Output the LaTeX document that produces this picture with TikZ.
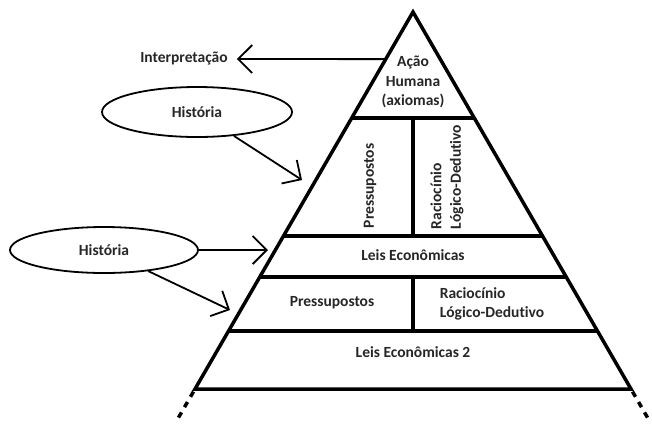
\documentclass[tikz,border=0pt]{standalone}
\usepackage{fontspec}
\setmainfont{Carlito}[Ligatures={NoCommon}]
\usetikzlibrary{shapes.geometric,arrows.meta,calc}
\tikzstyle{txt}=[font=\bfseries\fontsize{15.5}{19.5}\selectfont, inner sep=0pt, align=center, text=black!85]
\tikzstyle{hist}=[ellipse, draw=black, line width=1.8, inner sep=0pt, font=\bfseries\fontsize{15.5}{19.5}\selectfont, text=black!85]
\tikzstyle{pointer}=[-{Straight Barb[length=14pt,width=28pt,line width=1.8]}, draw=black, line width=1.8]
\tikzstyle{wall}=[draw=black, line width=3.5]
\tikzstyle{trail}=[draw=black, line width=3.5, dash pattern=on 6pt off 6pt, dash phase=-3pt]

\begin{document}
\begin{tikzpicture}[x=1pt,y=-1pt]
    \useasboundingbox (0,0) rectangle (652,424);

    % pyramid
    \coordinate (top) at (413,12);
    \coordinate (bl) at (195,389);
    \coordinate (br) at (631,389);
    \draw [style=wall] (bl) -- (top) -- (br) -- cycle;
    \foreach \t in {0.281,0.594,0.703,0.846}
        \draw [style=wall] ($(top)!\t!(bl)$) -- ($(top)!\t!(br)$);
    \draw [style=wall] (413,118) -- (413,236);
    \draw [style=wall] (413,277) -- (413,331);
    \draw [style=trail] (bl) -- ($(top)!1.08!(bl)$);
    \draw [style=trail] (br) -- ($(top)!1.08!(br)$);

    % texts
    \node [style=txt] (acao) at (413,82) {Ação\\Humana\\(axiomas)};
    \node [style=txt, rotate=90] (pres1) at (370,186) {Pressupostos};
    \node [style=txt, rotate=90, align=left] (raci1) at (447,177) {Raciocínio\\Lógico-Dedutivo};
    \node [style=txt] (leis1) at (413,255) {Leis Econômicas};
    \node [style=txt] (pres2) at (332,303) {Pressupostos};
    \node [style=txt, align=left] (raci2) at (492,304) {Raciocínio\\Lógico-Dedutivo};
    \node [style=txt] (leis2) at (413,352) {Leis Econômicas 2};
    \node [style=txt, inner xsep=9pt] (interp) at (184,59) {Interpretação};

    \node [style=hist, minimum width=190, minimum height=50] (hist1) at (197,112) {História};
    \node [style=hist, minimum width=188, minimum height=46] (hist2) at (104,250) {História};

    % arrows
    \coordinate (side0) at ($(top)!0.125!(bl)$);
    \coordinate (side1) at (302,180);
    \coordinate (side2) at (268,250);
    \coordinate (side3) at (230,310);
    \draw [style=pointer] (side0) -- (interp);
    \draw [style=pointer] (hist1) -- (side1);
    \draw [style=pointer] (hist2) -- (side2);
    \draw [style=pointer] (hist2) -- (side3);
\end{tikzpicture}
\end{document}
